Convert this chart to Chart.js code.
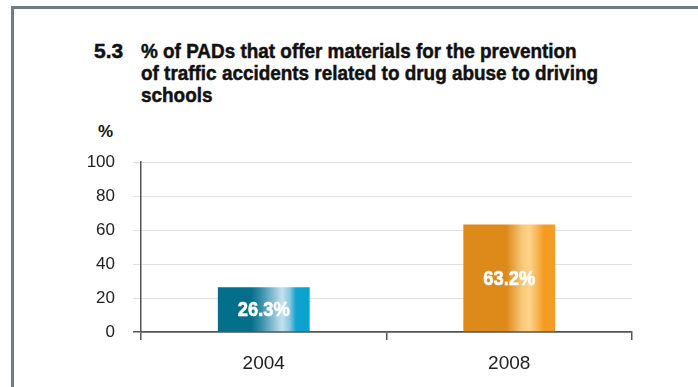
<!DOCTYPE html>
<html>
<head>
<meta charset="utf-8">
<script src="https://cdn.jsdelivr.net/npm/chart.js@4"></script>
<style>
  html, body { margin: 0; padding: 0; background: #fff; }
  #wrap { position: relative; width: 698px; height: 387px; overflow: hidden; }
  #frame { position: absolute; left: 11px; top: 6px; width: 700px; height: 400px;
           border-left: 3px solid #6f7c81; border-top: 3px solid #6f7c81; }
  .ttl { position: absolute; font-family: 'Liberation Sans', Arial, sans-serif;
         font-weight: bold; font-size: 21px; color: #111; white-space: nowrap; line-height: 22px;
         transform-origin: 0 0; -webkit-text-stroke: 0.5px #111; }
  #num { left: 94px; top: 40px; }
  #txt { left: 141px; top: 40px; }
  #unit { position: absolute; left: 98px; top: 122px; font-family: 'Liberation Sans', Arial, sans-serif;
          font-weight: bold; font-size: 17px; line-height: 20px; color: #111; }
  #c { position: absolute; left: 0; top: 0; }
</style>
</head>
<body>
<div id="wrap">
  <div id="frame"></div>
  <div class="ttl" id="num">5.3</div>
  <div class="ttl" id="txt">% of PADs that offer materials for the prevention<br>of traffic accidents related to drug abuse to driving<br>schools</div>
  <div id="unit">%</div>
  <canvas id="c" width="698" height="387"></canvas>
</div>
<script>
let years = ['2004', '2008'];
let shares = [26.3, 63.2];
let valueLabels = ['26.3%', '63.2%'];
let yTicks = [0, 20, 40, 60, 80, 100];

// the original uses a condensed face; squeeze the plain one to the same width
const txt = document.getElementById('txt');
txt.style.transform = 'scaleX(' + (457 / txt.getBoundingClientRect().width) + ')';

// colour stops for the striped "cylinder" look of each bar
const stops = [
  [[0, '#036f8b'], [0.36, '#046f8b'], [0.46, '#2f8aa5'], [0.58, '#79b6cc'], [0.7, '#c4e1ee'], [0.78, '#8fc9e0'], [0.85, '#12a3cf'], [1, '#06a2d0']],
  [[0, '#de8a1b'], [0.47, '#de8a1b'], [0.55, '#eaa645'], [0.64, '#f7c879'], [0.72, '#ffd389'], [0.8, '#f9b758'], [0.88, '#f59b22'], [1, '#f59c25']]
];

const barPct = 0.374;

function barFill(context){
  const chart = context.chart;
  const x = chart.scales.x;
  if(!chart.chartArea || !x) return stops[context.dataIndex][0][1];
  const center = x.getPixelForValue(context.dataIndex);
  const half = x.width / years.length * barPct / 2;
  const g = chart.ctx.createLinearGradient(center - half, 0, center + half, 0);
  stops[context.dataIndex].forEach(s => g.addColorStop(s[0], s[1]));
  return g;
}

// white value text in the middle of each bar
const barLabels = {
  id: 'barLabels',
  afterDatasetsDraw(chart){
    const {ctx} = chart;
    const meta = chart.getDatasetMeta(0);
    ctx.save();
    ctx.fillStyle = '#ffffff';
    ctx.strokeStyle = '#ffffff';
    ctx.lineWidth = 0.6;
    ctx.font = "bold 21px 'Liberation Sans', Arial, sans-serif";
    ctx.textAlign = 'center';
    ctx.textBaseline = 'middle';
    meta.data.forEach((bar, i) => {
      const w = ctx.measureText(valueLabels[i]).width;
      ctx.save();
      ctx.translate(bar.x, (bar.y + bar.base) / 2 + 1);
      ctx.scale(52 / w, 1);
      ctx.fillText(valueLabels[i], 0, 0);
      ctx.strokeText(valueLabels[i], 0, 0);
      ctx.restore();
    });
    ctx.restore();
  }
};

const ctx = document.getElementById('c');
new Chart(ctx, {
  type: 'bar',
  data: {
    labels: years,
    datasets: [{
      data: shares,
      backgroundColor: barFill,
      borderWidth: 0,
      categoryPercentage: 1,
      barPercentage: barPct
    }]
  },
  options: {
    responsive: false,
    animation: false,
    layout: { padding: { top: 162, right: 66, left: 0, bottom: 0 } },
    plugins: { legend: { display: false }, tooltip: { enabled: false } },
    scales: {
      x: {
        afterFit(scale){ scale.height = 55; },
        grid: { offset: true, drawOnChartArea: false, color: '#555', lineWidth: 1.5, tickLength: 8 },
        border: { color: '#555', width: 1.5 },
        ticks: { color: '#222', padding: 12, font: { family: "'Liberation Sans', Arial, sans-serif", size: 19 } }
      },
      y: {
        min: 0, max: 100,
        afterFit(scale){ scale.width = 141; },
        afterBuildTicks(scale){ scale.ticks = yTicks.map(v => ({ value: v })); },
        grid: {
          color: c => c.tick && c.tick.value === 0 ? '#555' : '#e0e0e0',
          lineWidth: c => c.tick && c.tick.value === 0 ? 1.5 : 1,
          tickLength: 8
        },
        border: { color: '#555', width: 1.5 },
        ticks: { color: '#222', padding: 18, font: { family: "'Liberation Sans', Arial, sans-serif", size: 17 } }
      }
    }
  },
  plugins: [barLabels]
});
</script>
</body>
</html>
